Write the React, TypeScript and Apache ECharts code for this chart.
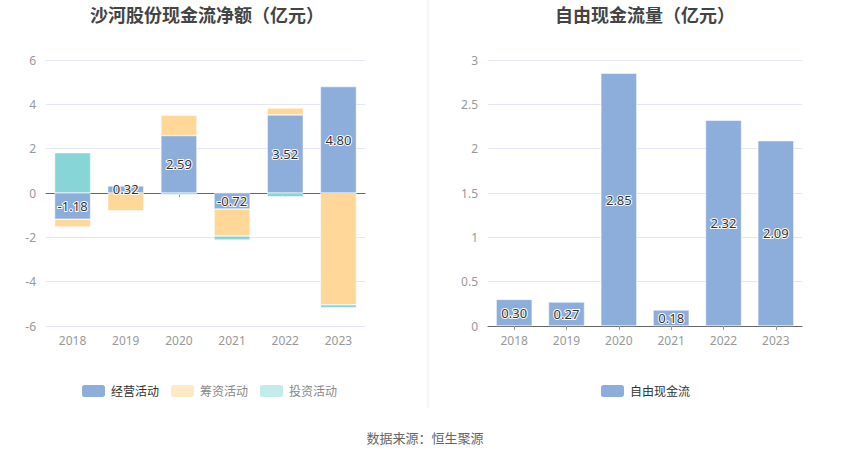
import React, { useEffect, useRef } from "react";
import * as echarts from "echarts";

const years = ["2018", "2019", "2020", "2021", "2022", "2023"];
const operating = [-1.18, 0.32, 2.59, -0.72, 3.52, 4.8];
const financing = [-0.35, -0.81, 0.92, -1.22, 0.31, -5.04];
const investing = [1.82, 0.0, -0.08, -0.18, -0.17, -0.14];
const freeCashFlow = [0.3, 0.27, 2.85, 0.18, 2.32, 2.09];

const leftTitle = "沙河股份现金流净额（亿元）";
const rightTitle = "自由现金流量（亿元）";
const sourceText = "数据来源：恒生聚源";

const FONT = "'Noto Sans', 'Noto Sans CJK SC', sans-serif";
const BLUE = "#8DAEDB";
const ORANGE = "#FFD899";
const TEAL = "#88D5D8";

export default function App() {
  const ref = useRef<HTMLDivElement>(null);
  useEffect(() => {
    if (!ref.current) return;
    const chart = echarts.init(ref.current, null, { renderer: "svg" });
    const label = {
      show: true,
      position: "inside",
      fontSize: 13,
      fontFamily: FONT,
      color: "#333",
      textBorderColor: "#fff",
      textBorderWidth: 2,
      formatter: (p: any) => p.value.toFixed(2),
    };
    const yLabel = { color: "#999", fontSize: 12, fontFamily: FONT, margin: 10 };
    const xLabel = { color: "#999", fontSize: 12, fontFamily: FONT, margin: 8 };
    chart.setOption({
      animation: false,
      textStyle: { fontFamily: FONT },
      title: [
        {
          text: leftTitle,
          left: 202,
          top: 1,
          textAlign: "center",
          textStyle: { fontSize: 18, fontWeight: "bold", color: "#444", fontFamily: FONT },
        },
        {
          text: rightTitle,
          left: 640,
          top: 1,
          textAlign: "center",
          textStyle: { fontSize: 18, fontWeight: "bold", color: "#444", fontFamily: FONT },
        },
      ],
      legend: [
        {
          left: 75,
          top: 378,
          itemWidth: 25,
          itemHeight: 14,
          itemGap: 10,
          icon: "roundRect",
          textStyle: { fontSize: 12, color: "#666", fontFamily: FONT },
          data: [
            { name: "经营活动", itemStyle: { color: BLUE }, textStyle: { color: "#333" } },
            { name: "筹资活动", itemStyle: { color: "#FFE9C7" }, textStyle: { color: "#888" } },
            { name: "投资活动", itemStyle: { color: "#C3EBEC" }, textStyle: { color: "#888" } },
          ],
        },
        {
          left: 594,
          top: 378,
          itemWidth: 25,
          itemHeight: 14,
          icon: "roundRect",
          textStyle: { fontSize: 12, color: "#333", fontFamily: FONT },
          data: [{ name: "自由现金流", itemStyle: { color: BLUE } }],
        },
      ],
      grid: [
        { left: 46, right: 485, top: 60, bottom: 133 },
        { left: 488, right: 48, top: 60, bottom: 133 },
      ],
      xAxis: [
        {
          type: "category",
          gridIndex: 0,
          data: years,
          position: "bottom",
          axisLine: { show: false, onZero: false },
          axisTick: { show: false },
          axisLabel: xLabel,
        },
        {
          type: "category",
          gridIndex: 0,
          data: years,
          position: "top",
          axisLine: { show: true, onZero: true, lineStyle: { color: "#666" } },
          axisTick: { show: true, inside: true, alignWithLabel: true, length: 4, lineStyle: { color: "#999" } },
          axisLabel: { show: false },
        },
        {
          type: "category",
          gridIndex: 1,
          data: years,
          axisLine: { show: true, lineStyle: { color: "#666" } },
          axisTick: { show: true, alignWithLabel: true, length: 4, lineStyle: { color: "#999" } },
          axisLabel: xLabel,
        },
      ],
      yAxis: [
        {
          type: "value",
          gridIndex: 0,
          min: -6,
          max: 6,
          interval: 2,
          axisLabel: yLabel,
          splitLine: { lineStyle: { color: "#E3E7F3" } },
          axisLine: { show: false },
          axisTick: { show: false },
        },
        {
          type: "value",
          gridIndex: 1,
          min: 0,
          max: 3,
          interval: 0.5,
          axisLabel: yLabel,
          splitLine: { lineStyle: { color: "#E3E7F3" } },
          axisLine: { show: false },
          axisTick: { show: false },
        },
      ],
      series: [
        {
          name: "经营活动",
          type: "bar",
          xAxisIndex: 0,
          yAxisIndex: 0,
          stack: "cf",
          barWidth: 36,
          data: operating,
          itemStyle: { color: BLUE, borderColor: "#fff", borderWidth: 0.5 },
          label,
          z: 3,
        },
        {
          name: "筹资活动",
          type: "bar",
          xAxisIndex: 0,
          yAxisIndex: 0,
          stack: "cf",
          barWidth: 36,
          data: financing,
          itemStyle: { color: ORANGE, borderColor: "#fff", borderWidth: 0.5 },
        },
        {
          name: "投资活动",
          type: "bar",
          xAxisIndex: 0,
          yAxisIndex: 0,
          stack: "cf",
          barWidth: 36,
          data: investing,
          itemStyle: { color: TEAL, borderColor: "#fff", borderWidth: 0.5 },
        },
        {
          name: "自由现金流",
          type: "bar",
          xAxisIndex: 2,
          yAxisIndex: 1,
          barWidth: 36,
          data: freeCashFlow,
          itemStyle: { color: BLUE, borderColor: "#fff", borderWidth: 0.5 },
          label,
        },
      ],
      graphic: [
        {
          type: "line",
          shape: { x1: 428, y1: 0, x2: 428, y2: 408 },
          style: { stroke: "#EEEEEE", lineWidth: 1 },
        },
        {
          type: "text",
          x: 425,
          y: 438,
          style: {
            text: sourceText,
            fill: "#666",
            fontSize: 13,
            fontFamily: FONT,
            textAlign: "center",
            textVerticalAlign: "middle",
          },
        },
      ],
    });
    return () => chart.dispose();
  }, []);
  return (
    <div
      ref={ref}
      style={{ position: "absolute", left: 0, top: 0, width: 850, height: 459, background: "#fff" }}
    />
  );
}
